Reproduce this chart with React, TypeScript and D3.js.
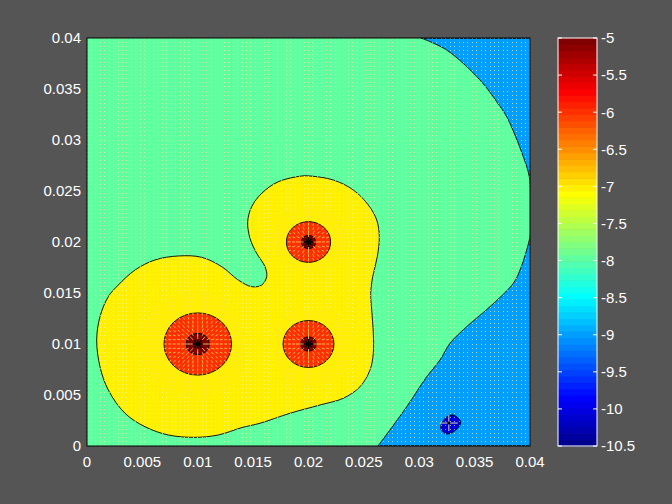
import React from "react";
import * as d3 from "d3";

// ---------- data ----------
const xTicks = [0, 0.005, 0.01, 0.015, 0.02, 0.025, 0.03, 0.035, 0.04];
const xTickLabels = ["0", "0.005", "0.01", "0.015", "0.02", "0.025", "0.03", "0.035", "0.04"];
const yTicks = [0, 0.005, 0.01, 0.015, 0.02, 0.025, 0.03, 0.035, 0.04];
const yTickLabels = ["0", "0.005", "0.01", "0.015", "0.02", "0.025", "0.03", "0.035", "0.04"];
const cbTicks = [-5, -5.5, -6, -6.5, -7, -7.5, -8, -8.5, -9, -9.5, -10, -10.5];
const cbTickLabels = ["-5", "-5.5", "-6", "-6.5", "-7", "-7.5", "-8", "-8.5", "-9", "-9.5", "-10", "-10.5"];
const cLim = [-10.5, -5];
// contour levels of the filled regions
const levelSink = -10; // blob around the sink (-10..-9)
const levelLow = -9; // right region (-9..-8)
const levelBase = -8; // background (-8..-7)
const levelMid = -7; // yellow lobe (-7..-6)
const levelHigh = -6; // rings around sources (-6..-5)
const levelTop = -5; // cores (> -5)

// sources: position, radius of the -6 contour, radius of the -5 contour
const srcX = [0.01, 0.02, 0.02];
const srcY = [0.01, 0.01, 0.02];
const srcR6 = [0.00305, 0.0023, 0.002];
const srcR5 = [0.00105, 0.0007, 0.00065];

// -7 contour (yellow lobe outline)
const c7X = [
  0.000876, 0.001174, 0.001923, 0.002826, 0.004334, 0.00614, 0.008244, 0.010357, 0.012163, 0.013662,
  0.014871, 0.015774, 0.016226, 0.016072, 0.015323, 0.014718, 0.01451, 0.014871, 0.015774, 0.017273,
  0.019386, 0.020135, 0.02224, 0.024045, 0.0254, 0.026158, 0.026393, 0.026212, 0.025797, 0.025616,
  0.025707, 0.025851, 0.025851, 0.025553, 0.02465, 0.023142, 0.021038, 0.01833, 0.01562, 0.013995,
  0.011855, 0.009752, 0.007341, 0.005237, 0.003431, 0.001923, 0.001174,
];
const c7Y = [
  0.01039, 0.01268, 0.01464, 0.01578, 0.01725, 0.01824, 0.01863, 0.0185, 0.01758, 0.01627,
  0.01562, 0.01578, 0.0166, 0.01758, 0.01889, 0.02036, 0.02199, 0.02346, 0.02477, 0.02591,
  0.02647, 0.02647, 0.02608, 0.0251, 0.02363, 0.02216, 0.02052, 0.01856, 0.0166, 0.01497,
  0.01333, 0.01105, 0.00909, 0.00745, 0.00581, 0.00468, 0.00402, 0.00321, 0.00223, 0.00181,
  0.00108, 0.00085, 0.00108, 0.00189, 0.00321, 0.00549, 0.00777,
];

// -8 contour (boundary of the right-hand region), top edge to bottom edge
const c8X = [
  0.030158, 0.032479, 0.035485, 0.036993, 0.037896, 0.039395, 0.039937, 0.0401, 0.0401, 0.039702,
  0.039097, 0.038492, 0.036388, 0.034284, 0.032776, 0.031873, 0.030673, 0.028867, 0.026456, 0.026275,
];
const c8Y = [
  0.04, 0.03882, 0.03588, 0.03375, 0.03228, 0.02836, 0.0264, 0.02379, 0.02118, 0.01922,
  0.01725, 0.01595, 0.01366, 0.0117, 0.01007, 0.00843, 0.00679, 0.00385, 0.00026, 0,
];

// -9 contour around the sink
const sinkX = [0.033074, 0.033743, 0.033381, 0.032479, 0.031937, 0.032172, 0.032623];
const sinkY = [0.00304, 0.00238, 0.00164, 0.00118, 0.00174, 0.00248, 0.00294];
const sinkPos = [0.03267, 0.00225];

// ---------- layout ----------
const W = 672;
const H = 504;
const plot = { left: 87, right: 530, top: 38, bottom: 446 };
const cb = { left: 558, right: 597, top: 38, bottom: 446 };
const FONT = "'Liberation Sans', Arial, Helvetica, sans-serif";

function jet64(): string[] {
  const n = 16;
  const u: number[] = [];
  for (let i = 1; i <= n; i++) u.push(i / n);
  for (let i = 0; i < n - 1; i++) u.push(1);
  for (let i = n; i >= 1; i--) u.push(i / n);
  const J = Array.from({ length: 64 }, () => [0, 0, 0]);
  u.forEach((val, k) => {
    const g = 8 + k + 1; // 1-based
    const r = g + n;
    const b = g - n;
    if (r <= 64) J[r - 1][0] = val;
    if (g <= 64) J[g - 1][1] = val;
    if (b >= 1) J[b - 1][2] = val;
  });
  return J.map((c) => d3.rgb(c[0] * 255, c[1] * 255, c[2] * 255).formatHex());
}
const JET = jet64();
function levelColor(L: number) {
  const idx = Math.min(64, Math.floor(((L - cLim[0]) / (cLim[1] - cLim[0])) * 64) + 1);
  return JET[Math.max(1, idx) - 1];
}

export default function App() {
  const x = d3.scaleLinear().domain([0, 0.04]).range([plot.left, plot.right]);
  const y = d3.scaleLinear().domain([0, 0.04]).range([plot.bottom, plot.top]);
  const cy = d3.scaleLinear().domain(cLim).range([cb.bottom, cb.top]);

  const closed = d3
    .line<[number, number]>()
    .x((d) => x(d[0]))
    .y((d) => y(d[1]))
    .curve(d3.curveCatmullRomClosed.alpha(0.5));
  const open = d3
    .line<[number, number]>()
    .x((d) => x(d[0]))
    .y((d) => y(d[1]))
    .curve(d3.curveCatmullRom.alpha(0.5));

  const c7 = closed(c7X.map((v, i) => [v, c7Y[i]] as [number, number])) || "";
  const c8 =
    (open(c8X.map((v, i) => [v, c8Y[i]] as [number, number])) || "") +
    `L${x(0.045)},${y(0)}L${x(0.045)},${y(0.04)}Z`;
  const sinkPath = closed(sinkX.map((v, i) => [v, sinkY[i]] as [number, number])) || "";

  // strengths implied by the -6 radii (field ~ q / r^2)
  const q = srcR6.map((r) => 1e-6 * r * r);

  // quiver-like grid of small marks
  const grid = d3.range(0, 101).map((i) => i * 0.0004);
  let dots = "";
  let dashes = "";
  grid.forEach((gx) => {
    grid.forEach((gy) => {
      let vx = 0;
      let vy = 0;
      let skip = false;
      srcX.forEach((sx, k) => {
        const dx = gx - sx;
        const dy = gy - srcY[k];
        const r2 = dx * dx + dy * dy;
        if (r2 < 1e-12) {
          skip = true;
          return;
        }
        const r = Math.sqrt(r2);
        vx += (q[k] * dx) / (r2 * r);
        vy += (q[k] * dy) / (r2 * r);
      });
      if (skip) return;
      const m = Math.hypot(vx, vy);
      const L = Math.max(1, Math.min(5.5, 1 + 1.4 * (Math.log10(m) + 7)));
      const px = x(gx);
      const py = y(gy);
      if (L < 1.8) {
        const rx = Math.min(Math.floor(px), plot.right - 1);
        const ry = Math.min(Math.floor(py), plot.bottom - 1);
        dots += `M${rx},${ry}h1v1h-1z`;
      } else {
        const ux = vx / m;
        const uy = vy / m;
        dashes += `M${px.toFixed(2)},${py.toFixed(2)}l${(ux * L).toFixed(2)},${(-uy * L).toFixed(2)}`;
      }
    });
  });

  const quiverColor = "#ffffa8";

  return (
    <svg
      width={W}
      height={H}
      viewBox={`0 0 ${W} ${H}`}
      style={{ position: "absolute", left: 0, top: 0, display: "block" }}
    >
      <defs>
        <clipPath id="plotClip">
          <rect x={plot.left} y={plot.top} width={plot.right - plot.left} height={plot.bottom - plot.top} />
        </clipPath>
      </defs>
      <rect x={0} y={0} width={W} height={H} fill="#555555" />

      <g clipPath="url(#plotClip)">
        <rect
          x={plot.left}
          y={plot.top}
          width={plot.right - plot.left}
          height={plot.bottom - plot.top}
          fill={levelColor(levelBase)}
        />
        <path d={c8} fill={levelColor(levelLow)} stroke="#000" strokeWidth={0.9} />
        <path d={sinkPath} fill={levelColor(levelSink)} stroke="#000" strokeWidth={0.9} />
        <path d={c7} fill={levelColor(levelMid)} stroke="#000" strokeWidth={0.9} />
        {srcX.map((sx, i) => (
          <ellipse
            key={"r6" + i}
            cx={x(sx)}
            cy={y(srcY[i])}
            rx={x(srcR6[i]) - x(0)}
            ry={y(0) - y(srcR6[i])}
            fill={levelColor(levelHigh)}
            stroke="#000"
            strokeWidth={0.9}
          />
        ))}
        {srcX.map((sx, i) => (
          <ellipse
            key={"r5" + i}
            cx={x(sx)}
            cy={y(srcY[i])}
            rx={x(srcR5[i]) - x(0)}
            ry={y(0) - y(srcR5[i])}
            fill={levelColor(levelTop)}
            stroke="#000"
            strokeWidth={0.9}
          />
        ))}
        <path d={dots} fill={quiverColor} opacity={0.65} />
        <path d={dashes} stroke="#ffe070" strokeWidth={1} opacity={0.75} fill="none" />
        {/* sink marker */}
        <g transform={`translate(${x(sinkPos[0])},${y(sinkPos[1])})`}>
          <path d="M-9,0H9M0,-8V8" stroke={quiverColor} strokeWidth={1} opacity={0.85} />
          <circle r={1.5} fill="#000" />
        </g>
        {/* source markers */}
        {srcX.map((sx, i) => (
          <g key={"m" + i} transform={`translate(${x(sx)},${y(srcY[i])})`}>
            <path
              d="M-5,0H5M0,-5V5M-3.6,-3.6L3.6,3.6M-3.6,3.6L3.6,-3.6"
              stroke="#000"
              strokeWidth={1.4}
            />
            <circle r={2.2} fill="#000" />
          </g>
        ))}
      </g>
      <rect
        x={plot.left}
        y={plot.top}
        width={plot.right - plot.left}
        height={plot.bottom - plot.top}
        fill="none"
        stroke="#000"
        strokeWidth={1}
      />

      {/* axis tick labels */}
      {xTicks.map((t, i) => (
        <text
          key={"xt" + i}
          x={x(t)}
          y={467}
          fill="#fff"
          fontFamily={FONT}
          fontSize={15}
          textAnchor="middle"
        >
          {xTickLabels[i]}
        </text>
      ))}
      {yTicks.map((t, i) => (
        <text
          key={"yt" + i}
          x={81}
          y={y(t) + 5.4}
          fill="#fff"
          fontFamily={FONT}
          fontSize={15}
          textAnchor="end"
        >
          {yTickLabels[i]}
        </text>
      ))}

      {/* colorbar */}
      {JET.map((c, i) => {
        const v0 = cLim[0] + (i * (cLim[1] - cLim[0])) / 64;
        const v1 = cLim[0] + ((i + 1) * (cLim[1] - cLim[0])) / 64;
        return (
          <rect
            key={"cb" + i}
            x={cb.left}
            y={cy(v1)}
            width={cb.right - cb.left}
            height={cy(v0) - cy(v1) + 0.5}
            fill={c}
          />
        );
      })}
      {cbTicks.map((t, i) => (
        <g key={"cbt" + i}>
          <line x1={cb.left} x2={cb.left + 4} y1={cy(t)} y2={cy(t)} stroke="#fff" strokeWidth={1} />
          <line x1={cb.right - 4} x2={cb.right} y1={cy(t)} y2={cy(t)} stroke="#fff" strokeWidth={1} />
          <text x={601} y={cy(t) + 5.4} fill="#fff" fontFamily={FONT} fontSize={15} textAnchor="start">
            {cbTickLabels[i]}
          </text>
        </g>
      ))}
      <rect
        x={cb.left}
        y={cb.top}
        width={cb.right - cb.left}
        height={cb.bottom - cb.top}
        fill="none"
        stroke="#fff"
        strokeWidth={1}
      />
    </svg>
  );
}
